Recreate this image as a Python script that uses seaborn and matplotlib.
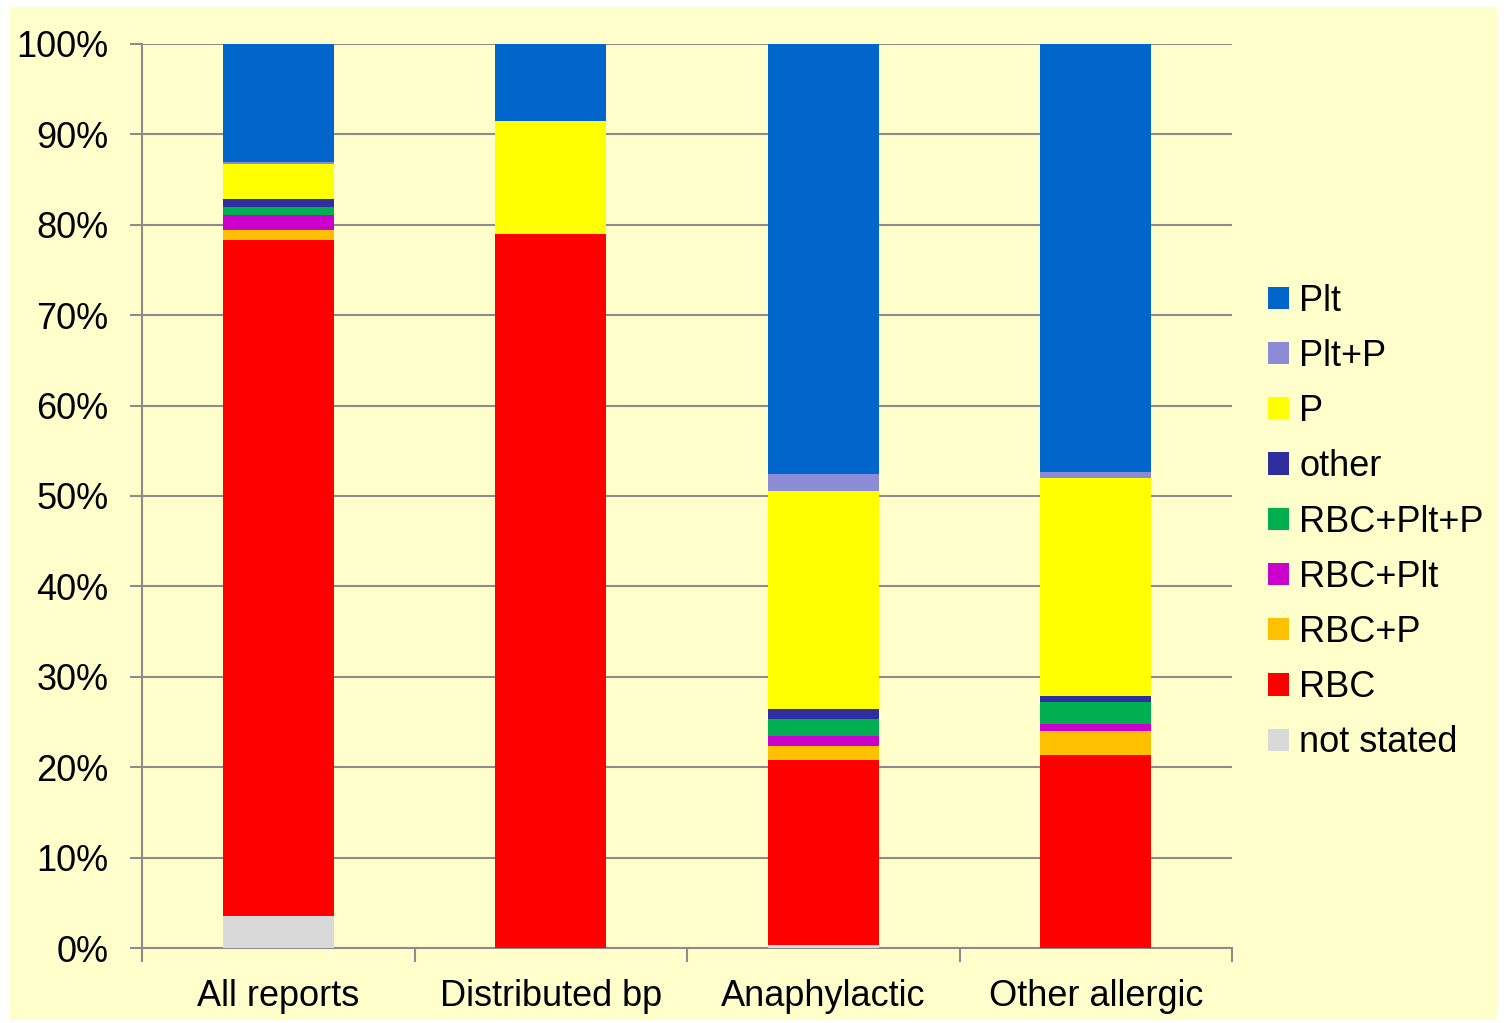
import matplotlib
matplotlib.use("Agg")
import matplotlib.pyplot as plt
from matplotlib.patches import Rectangle, Patch
import numpy as np
import pandas as pd
import seaborn as sns

# Reaction categories along the x axis
categories = ["All reports", "Distributed bp", "Anaphylactic", "Other allergic"]

# Component shares (%) per category, stacked bottom to top
not_stated = [3.5, 0.0, 0.3, 0.0]
rbc = [74.8, 79.0, 20.5, 21.3]
rbc_p = [1.1, 0.0, 1.5, 2.7]
rbc_plt = [1.7, 0.0, 1.2, 0.8]
rbc_plt_p = [0.9, 0.0, 1.8, 2.4]
other = [0.9, 0.0, 1.1, 0.7]
p = [3.8, 12.5, 24.1, 24.1]
plt_p = [0.2, 0.0, 1.9, 0.6]
plt_only = [13.1, 8.5, 47.6, 47.4]

series_names = ["not stated", "RBC", "RBC+P", "RBC+Plt", "RBC+Plt+P",
                "other", "P", "Plt+P", "Plt"]
series_values = [not_stated, rbc, rbc_p, rbc_plt, rbc_plt_p,
                 other, p, plt_p, plt_only]
series_colors = ["#D9D9D9", "#FF0000", "#FFC000", "#CC00CC", "#00B050",
                 "#2E2E9E", "#FFFF00", "#8C8CD6", "#0066CC"]

ytick_labels = ["0%", "10%", "20%", "30%", "40%", "50%",
                "60%", "70%", "80%", "90%", "100%"]

sns.set_theme(style="white")
plt.rcParams["font.family"] = ["Liberation Sans", "DejaVu Sans"]
plt.rcParams["text.color"] = "black"

bg = "#FFFFCC"
grid_c = "#8C8C8C"

fig = plt.figure(figsize=(15.07, 10.23), dpi=100, facecolor="white")
fig.patches.append(Rectangle((10 / 1507, 3 / 1023), 1487 / 1507, 1013 / 1023,
                             transform=fig.transFigure, facecolor=bg,
                             edgecolor="none", zorder=-10))

ax = fig.add_axes([142 / 1507, 1 - 948 / 1023, 1090 / 1507, 904 / 1023])
ax.set_facecolor(bg)

# Cumulative tops, drawn tallest first so each lower segment sits on top
df = pd.DataFrame(dict(zip(series_names, series_values)), index=categories)
cum = df.cumsum(axis=1)
for name, color in reversed(list(zip(series_names, series_colors))):
    long = pd.DataFrame({"category": categories, "value": cum[name].values})
    sns.barplot(data=long, x="category", y="value", color=color,
                saturation=1, width=0.407, ax=ax, zorder=3,
                edgecolor="none", linewidth=0)

ax.set_xlim(-0.5, 3.5)
ax.set_ylim(0, 100)
ax.set_yticks(np.arange(0, 101, 10))
ax.set_yticklabels(ytick_labels)
ax.yaxis.grid(True, color=grid_c, linewidth=1.5, zorder=1)
ax.set_axisbelow(True)
ax.set_xlabel("")
ax.set_ylabel("")

for s in ["top", "right"]:
    ax.spines[s].set_visible(False)
for s in ["left", "bottom"]:
    ax.spines[s].set_color(grid_c)
    ax.spines[s].set_linewidth(1.5)

ax.tick_params(axis="y", which="major", length=9, width=1.5, color=grid_c,
               labelsize=26, labelcolor="black", pad=15, left=True)
# category labels centred, tick marks at the category boundaries
ax.set_xticks(range(len(categories)))
ax.set_xticklabels(categories)
ax.tick_params(axis="x", which="major", length=0, labelsize=26,
               labelcolor="black", pad=22)
ax.set_xticks(np.arange(-0.5, 3.6, 1.0), minor=True)
ax.tick_params(axis="x", which="minor", length=10, width=1.5, color=grid_c,
               bottom=True)

handles = [Patch(facecolor=c, edgecolor="none", label=n)
           for n, c in zip(reversed(series_names), reversed(series_colors))]
fig.legend(handles=handles, loc="center left",
           bbox_to_anchor=(1268 / 1507, 1 - 522 / 1023),
           bbox_transform=fig.transFigure, frameon=False, fontsize=26,
           handlelength=0.57, handleheight=0.57, handletextpad=0.3,
           labelspacing=0.56, borderpad=0, borderaxespad=0,
           labelcolor="black")

fig.savefig("out.png", dpi=100, facecolor="white")
